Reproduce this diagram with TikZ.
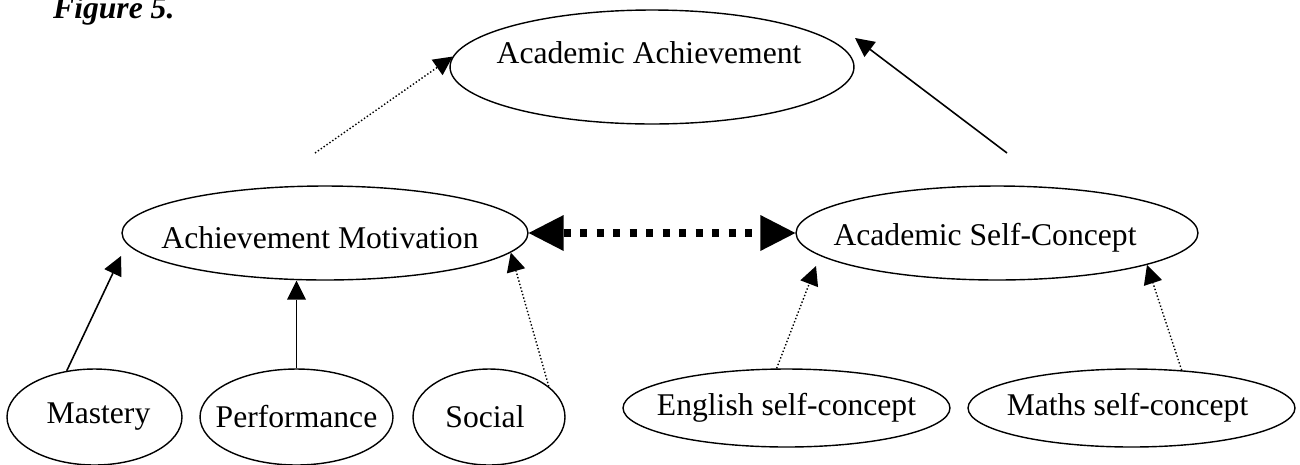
\documentclass[tikz,border=0pt]{standalone}
\usepackage{fontspec}
\setmainfont{Liberation Serif}
\usetikzlibrary{shapes.geometric,arrows.meta}
\begin{document}
\begin{tikzpicture}[x=.02cm,y=-.02cm,font=\fontsize{18}{21}\selectfont,
    oval/.style={draw,ellipse,line width=.8pt,inner sep=0pt},
    firm/.style={line width=.9pt,-{Triangle[length=.38cm,width=.38cm,line width=0pt]}},
    loose/.style={line width=.8pt,dash pattern=on .8pt off 1.2pt,-{Triangle[length=.38cm,width=.38cm,line width=0pt]}},
    bond/.style={line width=4pt,dash pattern=on .14cm off .19cm,
        {Triangle[length=.7cm,width=.72cm,line width=0pt]}-{Triangle[length=.7cm,width=.72cm,line width=0pt]}}]
\useasboundingbox(0,0)rectangle(1300,464);
\node[anchor=base west,font=\fontsize{18}{21}\selectfont\bfseries\itshape](fig)at(47,18){Figure 5.};
\node[oval,minimum width=8.08cm,minimum height=2.28cm,
    label={[anchor=base,xshift=-.06cm,yshift=.28cm]center:Academic Achievement}](aa)at(652,67){};
\node[oval,minimum width=8.12cm,minimum height=1.88cm,
    label={[anchor=base,xshift=-.1cm,yshift=-.1cm]center:Achievement Motivation}](am)at(325,233){};
\node[oval,minimum width=8.04cm,minimum height=1.88cm,
    label={[anchor=base,xshift=-.24cm,yshift=-.1cm]center:Academic Self-Concept}](asc)at(997,233){};
\node[oval,minimum width=3.5cm,minimum height=1.92cm,label={[xshift=.08cm]center:Mastery}](mast)at(94.5,417){};
\node[oval,minimum width=3.86cm,minimum height=1.92cm,label=center:Performance](perf)at(296.5,417){};
\node[oval,minimum width=3.04cm,minimum height=1.92cm,label={[xshift=-.08cm]center:Social}](soc)at(489,417){};
\node[oval,minimum width=6.54cm,minimum height=1.56cm,label=center:English self-concept](eng)at(786.5,408){};
\node[oval,minimum width=6.54cm,minimum height=1.56cm,label={[xshift=-.08cm]center:Maths self-concept}](maths)at(1131.5,408){};
\coordinate(mtip)at(121,256);
\coordinate(etip)at(816,266);
\coordinate(mfoot)at(315,153);
\coordinate(afoot)at(1007,153);
\coordinate(atip)at(855,38);
\draw[firm](mast.121)--(mtip);
\draw[firm](perf.north)--(perf.north|-am.south);
\draw[loose](soc.27)--(am.-6);
\draw[loose](eng.104)--(etip);
\draw[loose](maths.37)--(asc.-12);
\draw[loose](mfoot)--(aa.177);
\draw[firm](afoot)--(atip);
\draw[bond](am.east)--(asc.west);
\end{tikzpicture}
\end{document}
